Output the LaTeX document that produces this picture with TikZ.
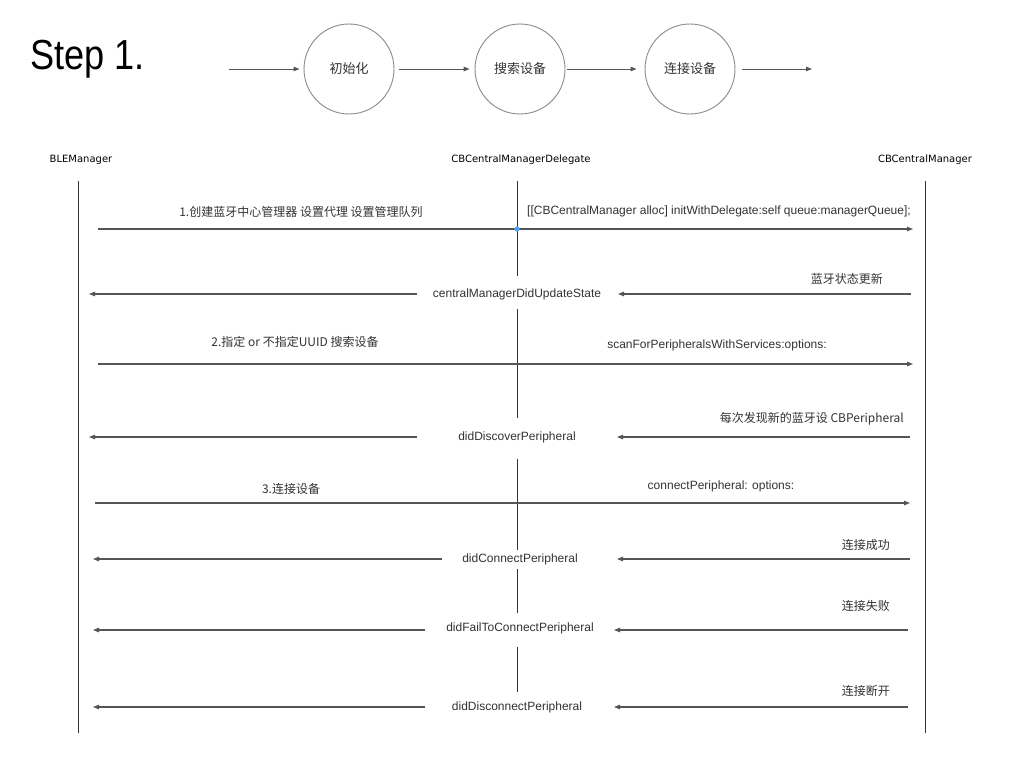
\documentclass[tikz,border=0pt]{standalone}
\usepackage{fontspec}
\setmainfont{Liberation Sans}
\newfontfamily\cjk{Noto Sans CJK SC}
\newfontfamily\headfont{DejaVu Sans}
\usetikzlibrary{arrows.meta}
\definecolor{linegray}{HTML}{555555}
\definecolor{lifegray}{HTML}{333333}
\definecolor{circgray}{HTML}{8A8A8A}
\definecolor{txtgray}{HTML}{333333}
\definecolor{dotblue}{HTML}{4DA3FF}
\begin{document}
\begin{tikzpicture}[x=1pt,y=-1pt,
  tip/.style={-{Triangle[length=6pt,width=4.5pt]}},
  msg/.style={draw=linegray,line width=1.1pt,tip},
  flow/.style={draw=linegray,line width=0.9pt,tip},
  life/.style={draw=lifegray,line width=1pt},
  stage/.style={circle,draw=circgray,line width=0.9pt,minimum size=90pt,inner sep=0pt,font=\cjk\fontsize{13}{15}\selectfont,text=txtgray},
  head/.style={font=\headfont\fontsize{10}{12}\selectfont,inner sep=0pt},
  lbl/.style={font=\fontsize{12}{14}\selectfont,text=txtgray,inner sep=0pt},
  zh/.style={font=\cjk\fontsize{12}{14}\selectfont,text=txtgray,inner sep=0pt}]
\useasboundingbox (0,0) rectangle (1024,768);
\fill[white] (0,0) rectangle (1024,768);

% title
\node[anchor=base west,inner sep=0pt,text=black] (title) at (30,70)
  {\fontsize{42}{46}\selectfont\scalebox{0.86}[1]{Step 1.}};

% stage flow
\coordinate (f0) at (229,69);
\node[stage] (s1) at (349,69) {初始化};
\node[stage] (s2) at (520,69) {搜索设备};
\node[stage] (s3) at (690,69) {连接设备};
\coordinate (f4) at (812,69);
\draw[flow] (f0) -- ([xshift=-4pt]s1.west);
\draw[flow] ([xshift=5pt]s1.east) -- ([xshift=-5pt]s2.west);
\draw[flow] ([xshift=2pt]s2.east) -- ([xshift=-8pt]s3.west);
\draw[flow] ([xshift=7pt]s3.east) -- (f4);

% lifeline heads
\node[head] (hble) at (81,160) {BLEManager};
\node[head] (hdel) at (521,160) {CBCentralManagerDelegate};
\node[head] (hcbm) at (925,160) {CBCentralManager};

% lifelines
\coordinate (bleTop) at (78,181);  \coordinate (bleBot) at (78,733);
\coordinate (cbmTop) at (925,181); \coordinate (cbmBot) at (925,733);
\draw[life] (bleTop) -- (bleBot);
\draw[life] (cbmTop) -- (cbmBot);

% delegate labels (centred on the delegate lifeline)
\node[lbl] (d1) at (517,294) {centralManagerDidUpdateState};
\node[lbl] (d2) at (517,437) {didDiscoverPeripheral};
\node[lbl] (d3) at (520,559) {didConnectPeripheral};
\node[lbl] (d4) at (520,628) {didFailToConnectPeripheral};
\node[lbl] (d5) at (517,707) {didDisconnectPeripheral};

% delegate lifeline, broken around its labels
\draw[life] (517,181) -- (517,276);
\draw[life] (517,309) -- (517,418);
\draw[life] (517,459) -- (517,550);
\draw[life] (517,569) -- (517,613);
\draw[life] (517,647) -- (517,692);

% 1. create manager
\coordinate (m1a) at (98,229); \coordinate (m1b) at (913,229);
\draw[msg] (m1a) -- (m1b);
\fill[dotblue] (517,229) circle (2.6pt);
\node[zh] (t1a) at (301,212) {1.创建蓝牙中心管理器 设置代理 设置管理队列};
\node[lbl,anchor=west] (t1b) at (527,211) {[[CBCentralManager alloc] initWithDelegate:self queue:managerQueue];};

% 2. state update
\coordinate (m2r) at (911,294); \coordinate (m2t) at (618,294);
\coordinate (m2l) at (417,294); \coordinate (m2e) at (89,294);
\draw[msg] (m2r) -- (m2t);
\draw[msg] (m2l) -- (m2e);
\node[zh,anchor=east] (t2) at (883,279) {蓝牙状态更新};

% 3. scan
\coordinate (m3a) at (98,364); \coordinate (m3b) at (913,364);
\draw[msg] (m3a) -- (m3b);
\node[zh] (t3a) at (295,342) {2.指定 or 不指定UUID 搜索设备};
\node[lbl] (t3b) at (717,345) {scanForPeripheralsWithServices:options:};

% 4. discover
\coordinate (m4r) at (910,437); \coordinate (m4t) at (617,437);
\coordinate (m4l) at (417,437); \coordinate (m4e) at (89,437);
\draw[msg] (m4r) -- (m4t);
\draw[msg] (m4l) -- (m4e);
\node[zh,anchor=east] (t4) at (904,419) {每次发现新的蓝牙设 CBPeripheral};

% 5. connect
\coordinate (m5a) at (95,503); \coordinate (m5b) at (910,503);
\draw[msg] (m5a) -- (m5b);
\node[zh] (t5a) at (291,489) {3.连接设备};
\node[lbl] (t5b) at (721,486) {connectPeripheral: options:};

% 6. connected
\coordinate (m6r) at (910,559); \coordinate (m6t) at (617,559);
\coordinate (m6l) at (442,559); \coordinate (m6e) at (93,559);
\draw[msg] (m6r) -- (m6t);
\draw[msg] (m6l) -- (m6e);
\node[zh,anchor=east] (t6) at (890,545) {连接成功};

% 7. failed
\coordinate (m7r) at (908,630); \coordinate (m7t) at (614,630);
\coordinate (m7l) at (425,630); \coordinate (m7e) at (93,630);
\draw[msg] (m7r) -- (m7t);
\draw[msg] (m7l) -- (m7e);
\node[zh,anchor=east] (t7) at (890,606) {连接失败};

% 8. disconnected
\coordinate (m8r) at (908,707); \coordinate (m8t) at (614,707);
\coordinate (m8l) at (425,707); \coordinate (m8e) at (93,707);
\draw[msg] (m8r) -- (m8t);
\draw[msg] (m8l) -- (m8e);
\node[zh,anchor=east] (t8) at (890,691) {连接断开};
\end{tikzpicture}
\end{document}
